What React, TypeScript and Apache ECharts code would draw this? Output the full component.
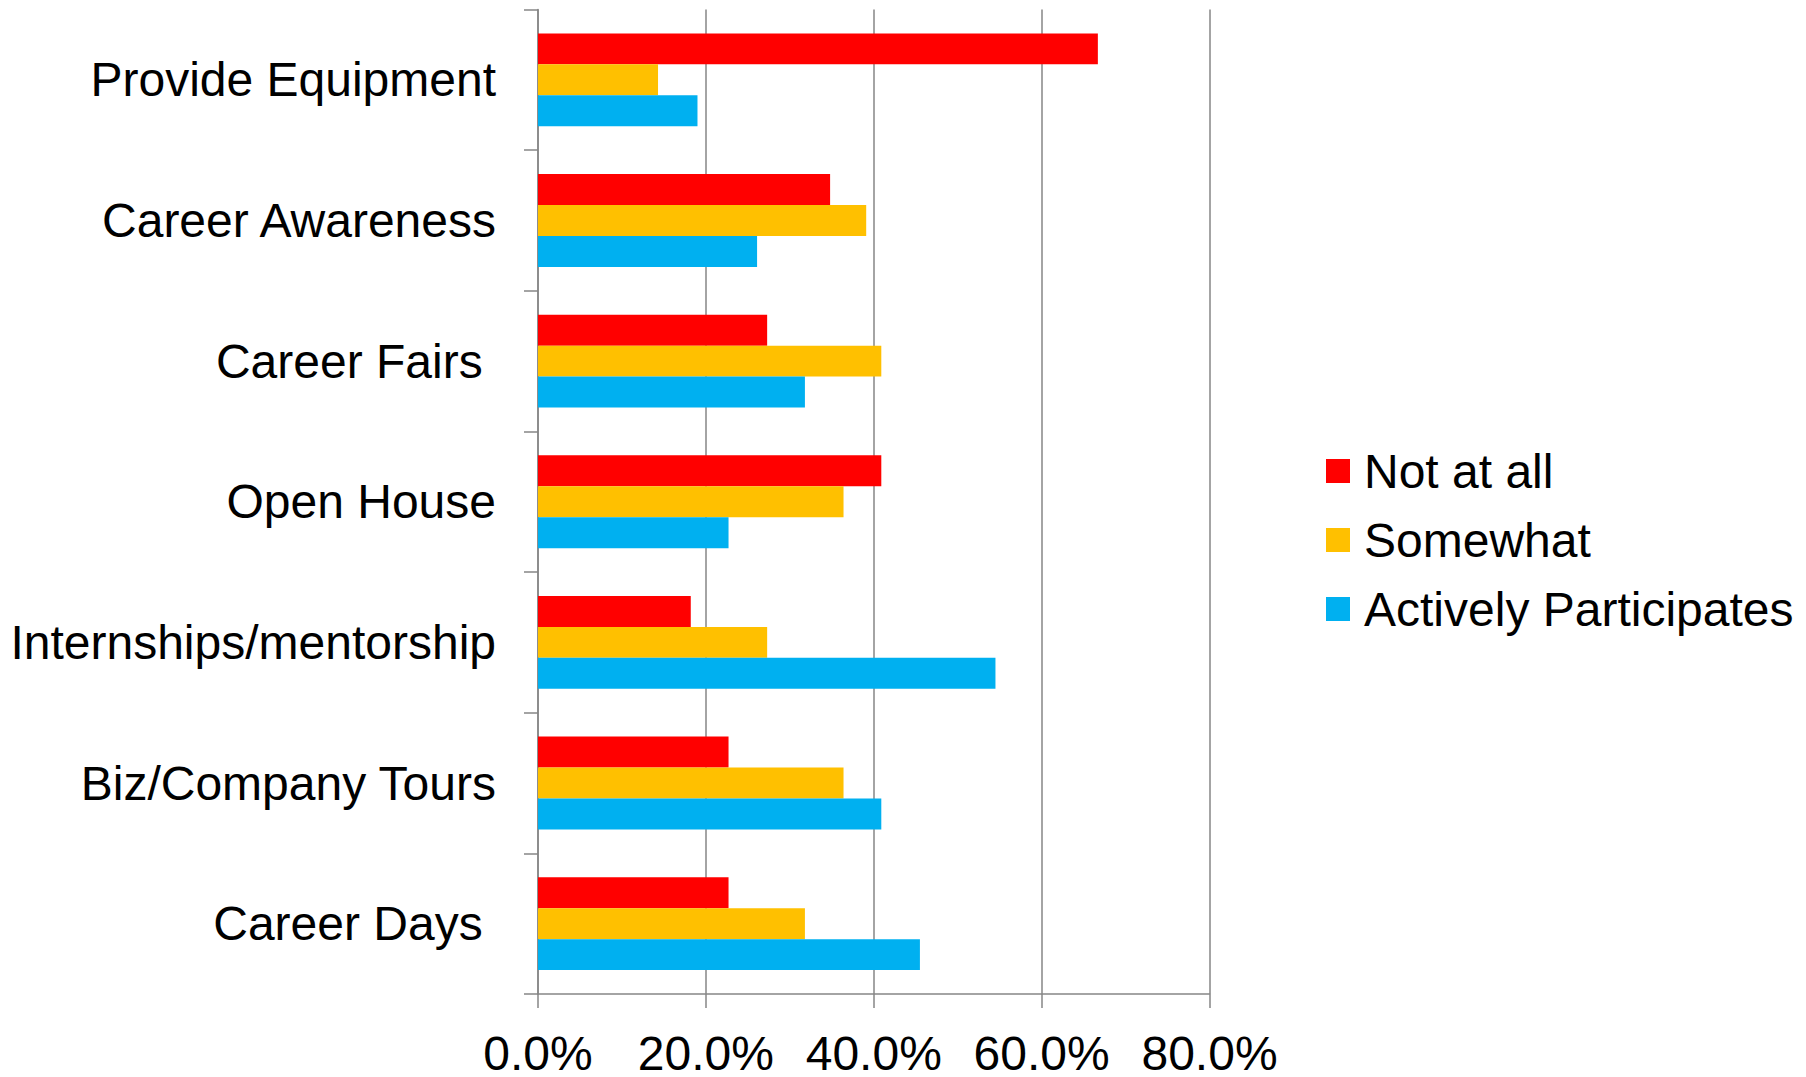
import React, { useEffect, useRef } from "react";
import * as echarts from "echarts";

const categories = [
  "Provide Equipment",
  "Career Awareness",
  "Career Fairs ",
  "Open House",
  "Internships/mentorship",
  "Biz/Company Tours",
  "Career Days ",
];
const notAtAll = [66.7, 34.8, 27.3, 40.9, 18.2, 22.7, 22.7];
const somewhat = [14.3, 39.1, 40.9, 36.4, 27.3, 36.4, 31.8];
const activelyParticipates = [19.0, 26.1, 31.8, 22.7, 54.5, 40.9, 45.5];
const seriesNames = ["Not at all", "Somewhat", "Actively Participates"];
const colors = ["#FF0000", "#FFC000", "#00B0F0"];
const xTicks = { min: 0, max: 80, interval: 20 };

const FONT = "'Liberation Sans', Arial, sans-serif";
const GRAY = "#868686";

export default function App() {
  const ref = useRef<HTMLDivElement>(null);
  useEffect(() => {
    if (!ref.current) return;
    const chart = echarts.init(ref.current, undefined, { renderer: "svg" });
    const data = [notAtAll, somewhat, activelyParticipates];
    chart.setOption({
      animation: false,
      textStyle: { fontFamily: FONT },
      grid: { left: 538, top: 9.5, right: 596.5, bottom: 77, containLabel: false },
      legend: {
        orient: "vertical",
        left: 1326,
        top: 447,
        padding: 0,
        itemWidth: 24,
        itemHeight: 24,
        itemGap: 21,
        icon: "rect",
        textStyle: { fontSize: 48, color: "#000", fontFamily: FONT, lineHeight: 48, padding: [0, 0, 0, 9] },
        data: seriesNames,
      },
      xAxis: {
        type: "value",
        min: xTicks.min,
        max: xTicks.max,
        interval: xTicks.interval,
        axisLine: { show: true, lineStyle: { color: GRAY, width: 1.5 } },
        axisTick: { show: true, length: 14, lineStyle: { color: GRAY, width: 1.5 } },
        splitLine: { show: true, lineStyle: { color: GRAY, width: 1.5 } },
        axisLabel: {
          fontSize: 48,
          lineHeight: 36,
          color: "#000",
          fontFamily: FONT,
          margin: 41,
          formatter: (v: number) => v.toFixed(1) + "%",
        },
      },
      yAxis: {
        type: "category",
        inverse: true,
        data: categories,
        axisLine: { show: true, lineStyle: { color: GRAY, width: 1.5 } },
        axisTick: { show: true, length: 14, alignWithLabel: false, lineStyle: { color: GRAY, width: 1.5 } },
        axisLabel: { fontSize: 48, color: "#000", fontFamily: FONT, margin: 42 },
        splitLine: { show: false },
      },
      series: seriesNames.map((name, i) => ({
        name,
        type: "bar",
        data: data[i],
        barGap: "0%",
        barCategoryGap: "34%",
        itemStyle: { color: colors[i] },
      })),
    });
    return () => chart.dispose();
  }, []);
  return (
    <div
      ref={ref}
      style={{ position: "fixed", left: 0, top: 0, width: 1806, height: 1077, background: "#fff" }}
    />
  );
}
